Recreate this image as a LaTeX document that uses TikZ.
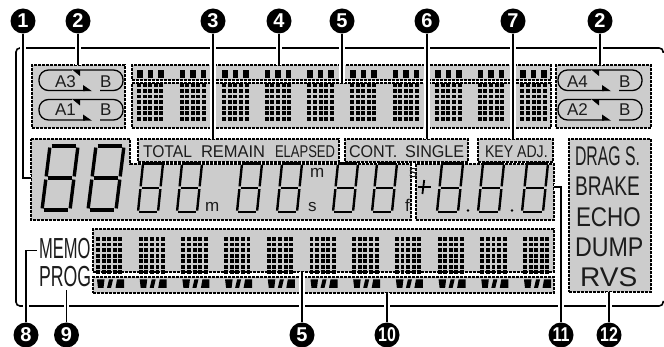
\documentclass[tikz,border=0pt]{standalone}
\usepackage{graphicx}
\usepackage{fontspec}
\setmainfont{Liberation Sans}
\tikzset{
  x=1pt,y=-1pt,
  frameline/.style={line width=1.6pt,black,rounded corners=4pt},
  lcdbox/.style={draw=black,fill=lcdgray,line width=1.1pt,dash pattern=on 2.8pt off 1.2pt,inner sep=0pt,outer sep=0pt,anchor=north west},
  leader/.style={line width=1.4pt,black,preaction={draw=white,line width=5.5pt}},
  badge/.style={circle,fill=black,text=white,minimum size=25pt,inner sep=0pt,font=\fontsize{20}{20}\selectfont\bfseries},
  pill/.style={line width=1.3pt,black,rounded corners=9.5pt},
  lab/.style={anchor=base west,inner sep=0pt,outer sep=0pt,text=labdark},
  seglarge/.style={line width=3.4pt,black},
  segsmall/.style={line width=2.4pt,black},
  segthin/.style={line width=1.8pt,black},
}
\definecolor{lcdgray}{HTML}{CCCCCC}
\definecolor{labdark}{HTML}{1C1C1C}
\newcommand\lcdrect[5]{\node[lcdbox,minimum width={(#4-#2)*1pt},minimum height={(#5-#3)*1pt}] (#1) at (#2,#3) {};}
% seven segment digit: x bottom-left, y top, width, height, slant, gap, style
\newcommand\sevenseg[7]{%
  \pgfmathsetmacro\xa{#1}\pgfmathsetmacro\xb{#1+#3}%
  \pgfmathsetmacro\xc{#1+#5}\pgfmathsetmacro\xd{#1+#5+#3}%
  \pgfmathsetmacro\xe{#1+#5/2}\pgfmathsetmacro\xf{#1+#5/2+#3}%
  \pgfmathsetmacro\yt{#2}\pgfmathsetmacro\ym{#2+#4/2}\pgfmathsetmacro\yb{#2+#4}%
  \begin{scope}[#7,shorten >=#6pt,shorten <=#6pt]
    \draw (\xc,\yt) -- (\xd,\yt);
    \draw (\xe,\ym) -- (\xf,\ym);
    \draw (\xa,\yb) -- (\xb,\yb);
    \draw (\xc,\yt) -- (\xe,\ym);
    \draw (\xe,\ym) -- (\xa,\yb);
    \draw (\xd,\yt) -- (\xf,\ym);
    \draw (\xf,\ym) -- (\xb,\yb);
  \end{scope}}
% dot matrix 5x7
\newcommand\dotmatrix[2]{%
  \foreach \ci in {0,...,4}{\foreach \ri in {0,...,6}{%
    \fill[black] ({#1+\ci*5.6},{#2+\ri*5.55}) rectangle +(3.9,3.9);}}}
\newcommand\threebars[2]{%
  \fill[black] (#1,#2) rectangle +(5.5,8.5);
  \fill[black] ({#1+10.5},#2) rectangle +(5.5,8.5);
  \fill[black] ({#1+21},#2) rectangle +(5.5,8.5);}
\newcommand\threequads[2]{%
  \fill[black] ({#1+1},#2) -- ({#1+8.5},#2) -- ({#1+7.5},{#2+8.5}) -- ({#1+2},{#2+8.5}) -- cycle;
  \fill[black] ({#1+13},#2) -- ({#1+17},#2) -- ({#1+15},{#2+8.5}) -- ({#1+11},{#2+8.5}) -- cycle;
  \fill[black] ({#1+21},#2) -- ({#1+28},#2) -- ({#1+28},{#2+8.5}) -- ({#1+19.5},{#2+8.5}) -- cycle;}
% repeat arrows pill: left x, top y
\newcommand\repeatpill[2]{%
  \draw[pill] ({#1+33},#2) -- (#1,#2) -- (#1,{#2+20.5}) -- ({#1+46},{#2+20.5});
  \draw[pill] ({#1+41},#2) -- ({#1+84},#2) -- ({#1+84},{#2+20.5}) -- ({#1+61},{#2+20.5});
  \fill[black] ({#1+33},{#2-.6}) -- ({#1+41},{#2-.6}) -- ({#1+41},{#2+6}) -- cycle;
  \fill[black] ({#1+44},{#2+15}) -- ({#1+53},{#2+21.2}) -- ({#1+44},{#2+21.2}) -- cycle;}
\newcommand\fs[1]{\fontsize{#1}{#1}\selectfont}
\begin{document}
\begin{tikzpicture}
\useasboundingbox (0,0) rectangle (664,347);
\fill[white] (0,0) rectangle (664,347);
% outer frame
\draw[frameline] (663.2,53) -- (663.2,48) -- (16,48) -- (16,306) -- (663.2,306) -- (663.2,301);
% boxes
\lcdrect{rptL}{32}{65}{125}{128}
\lcdrect{rptR}{556}{65}{651}{128}
\lcdrect{topbars}{132}{65}{551}{80}
\lcdrect{topdots}{132}{83}{551}{128}
\draw[lcdbox,anchor=center] (31,139) -- (130,139) -- (130,164) -- (411,164) -- (411,220) -- (31,220) -- cycle;
\coordinate (bigleft) at (31,178);
\lcdrect{timemode}{138}{139}{339}{162}
\lcdrect{contmode}{345}{139}{468}{162}
\lcdrect{keyadj}{478}{139}{553}{162}
\lcdrect{pitch}{416}{164}{554}{220}
\lcdrect{effects}{569}{139}{651}{292}
\lcdrect{botdots}{93}{229}{554}{272}
\lcdrect{botbars}{93}{277}{554}{293}
% dot matrices
\foreach \k in {0,...,9}{%
  \pgfmathsetmacro\cx{137+\k*42.6}%
  \dotmatrix{\cx}{83.5}
  \threebars{\cx}{70}
}
\foreach \k in {0,...,10}{%
  \pgfmathsetmacro\cx{96+\k*42.7}%
  \dotmatrix{\cx}{237}
  \threequads{\cx}{279.5}
}
% repeat pills
\repeatpill{39}{70}
\repeatpill{39}{99.5}
\repeatpill{558}{70}
\repeatpill{558}{99.5}
\node[lab] (ta3) at (55,87.5) {\fs{17}A3};
\node[lab] (tb1) at (100,87.5) {\fs{17}B};
\node[lab] (ta1) at (55,115.5) {\fs{17}A1};
\node[lab] (tb2) at (100,115.5) {\fs{17}B};
\node[lab] (ta4) at (567,87.5) {\fs{17}A4};
\node[lab] (tb3) at (619,87.5) {\fs{17}B};
\node[lab] (ta2) at (567,115.5) {\fs{17}A2};
\node[lab] (tb4) at (619,115.5) {\fs{17}B};
% mode labels
\node[lab] (total) at (143,158) {\fs{17}\scalebox{.92}[1]{TOTAL}};
\node[lab] (remain) at (201,158) {\fs{17}\scalebox{.97}[1]{REMAIN}};
\node[lab] (elapsed) at (275,158) {\fs{17}\scalebox{.765}[1]{ELAPSED}};
\node[lab] (cont) at (349,158) {\fs{17}\scalebox{.95}[1]{CONT.}};
\node[lab] (single) at (405,158) {\fs{17}\scalebox{.95}[1]{SINGLE}};
\node[lab] (key) at (485,158) {\fs{17}\scalebox{.83}[1]{KEY ADJ.}};
% seven-segment digits
\sevenseg{42}{146}{28}{64}{8}{1.6}{seglarge}
\sevenseg{88}{146}{28}{64}{8}{1.6}{seglarge}
\foreach \dx in {138,177,237,277,333,372}{\sevenseg{\dx}{163.5}{20}{48.5}{5}{1.4}{segsmall}}
\foreach \dx in {437,478,522}{\sevenseg{\dx}{163.5}{21}{48.5}{5}{1.4}{segsmall}}
\fill[black] (468,210.5) circle (1.4);
\fill[black] (512,210.5) circle (1.4);
\draw[segthin] (418,187) -- (431,187);
\draw[segthin] (424.2,180) -- (422.4,194);
\node[lab] (m1) at (205,212) {\fs{17}m};
\node[lab] (m2) at (310,178) {\fs{17}m};
\node[lab] (s1) at (308,212) {\fs{17}s};
\node[lab] (s2) at (409,178) {\fs{17}s};
\node[lab] (f1) at (405,212) {\fs{17}f};
% effect labels
\node[lab] (drag) at (575,166) {\fs{27}\scalebox{.585}[1]{DRAG S.}};
\node[lab] (brake) at (575,196) {\fs{27}\scalebox{.71}[1]{BRAKE}};
\node[lab] (echo) at (576,227) {\fs{27}\scalebox{.83}[1]{ECHO}};
\node[lab] (dump) at (575,257) {\fs{27}\scalebox{.86}[1]{DUMP}};
\node[lab] (rvs) at (580,287) {\fs{27}\scalebox{1.04}[1]{RVS}};
\node[lab] (memo) at (39,259) {\fs{29}\scalebox{.57}[1]{MEMO}};
\node[lab] (prog) at (39,287) {\fs{29}\scalebox{.61}[1]{PROG}};
% badges
\node[badge] (n1) at (23,21) {1};
\node[badge] (n2a) at (78,21) {2};
\node[badge] (n3) at (213,21) {3};
\node[badge] (n4) at (279,21) {4};
\node[badge] (n5a) at (342,21) {5};
\node[badge] (n6) at (427,21) {6};
\node[badge] (n7) at (513,21) {7};
\node[badge] (n2b) at (600,21) {2};
\node[badge] (n8) at (26,335) {8};
\node[badge] (n9) at (66.5,335) {9};
\node[badge] (n5b) at (302,335) {5};
\node[badge] (n10) at (387,335) {\scalebox{.8}[1]{10}};
\node[badge] (n11) at (561,335) {\scalebox{.8}[1]{11}};
\node[badge] (n12) at (609,335) {\scalebox{.8}[1]{12}};
% connector end points
\coordinate (e3) at (213,139);
\coordinate (e5a) at (342,83);
\coordinate (e6) at (427,139);
\coordinate (e7) at (513,139);
\coordinate (e5b) at (302,272);
\coordinate (e8) at (37,250.5);
\coordinate (e9) at (66.5,290);
\coordinate (e11) at (554,187);
% connectors
\draw[leader] (n1.south) |- (bigleft);
\draw[leader] (n2a.south) -- (n2a.south |- rptL.north);
\draw[leader] (n3.south) -- (e3);
\draw[leader] (n4.south) -- (n4.south |- topbars.north);
\draw[leader] (n5a.south) -- (e5a);
\draw[leader] (n6.south) -- (e6);
\draw[leader] (n7.south) -- (e7);
\draw[leader] (n2b.south) -- (n2b.south |- rptR.north);
\draw[leader] (n8.north) |- (e8);
\draw[leader] (n9.north) -- (e9);
\draw[leader] (n5b.north) -- (e5b);
\draw[leader] (n10.north) -- (n10.north |- botbars.south);
\draw[leader] (n11.north) |- (e11);
\draw[leader] (n12.north) -- (n12.north |- effects.south);
\end{tikzpicture}
\end{document}
